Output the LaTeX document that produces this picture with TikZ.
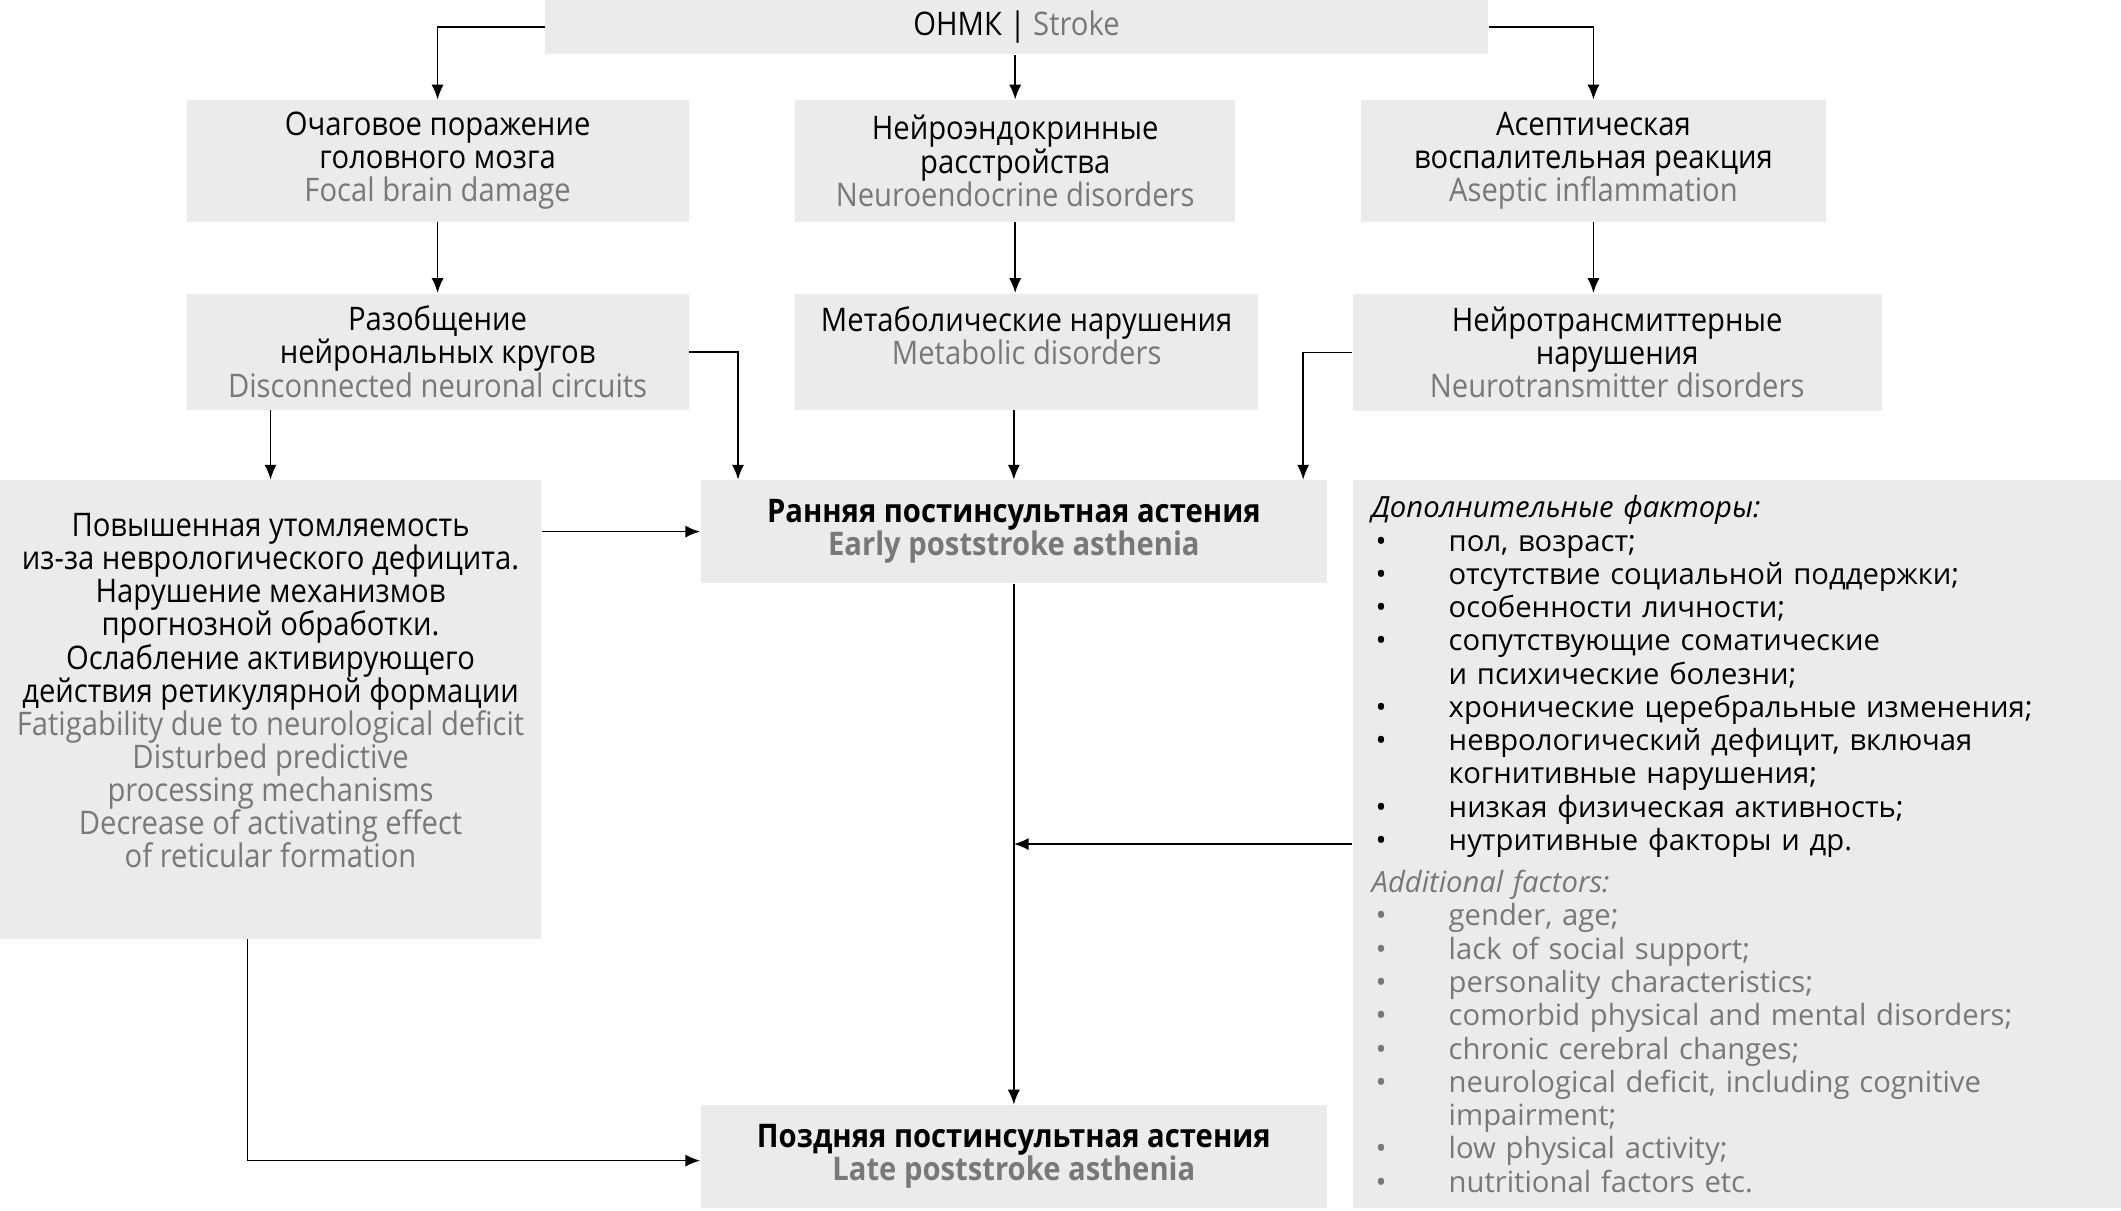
\documentclass[tikz,border=0pt]{standalone}
\usepackage{fontspec}
\setmainfont{Open Sans}
\newfontfamily\condfont[FakeStretch=0.9]{Open Sans}
\usepackage{xcolor}
\usetikzlibrary{arrows.meta}

\definecolor{boxgray}{HTML}{EBEBEB}
\definecolor{txtgray}{HTML}{787878}
\newcommand{\eng}[1]{\textcolor{txtgray}{#1}}
\newcommand{\itm}[1]{\makebox[28.5pt][l]{\hspace{1.5pt}•}#1}

\begin{document}
\begin{tikzpicture}[x=0.5pt, y=-0.5pt,
    box/.style={fill=boxgray, inner sep=0pt, align=center,
        font=\condfont\fontsize{12}{12.25}\selectfont},
    arr/.style={-{Latex[length=5.5pt,width=4.5pt]}, line width=0.65pt}]
    % Frame
    \useasboundingbox (0,0) rectangle (1568,895);

    % Stroke
    \node[box, minimum width=348.5pt, minimum height=20pt] (onmk) at (751.5,20) {ОНМК | \eng{Stroke}};

    % First level
    \node[box, minimum width=185.5pt, minimum height=45pt] (focal) at (323.5,119)
        {Очаговое поражение\\головного мозга\\\eng{Focal brain damage}};
    \node[box, minimum width=162.5pt, minimum height=45pt] (neuro) at (750.5,119)
        {Нейроэндокринные\\расстройства\\\eng{Neuroendocrine disorders}};
    \node[box, minimum width=172pt, minimum height=45pt] (asept) at (1178,119)
        {Асептическая\\воспалительная реакция\\\eng{Aseptic inflammation}};

    % Second level
    \node[box, minimum width=185.5pt, minimum height=43pt] (discon) at (323.5,260)
        {Разобщение\\нейрональных кругов\\\eng{Disconnected neuronal circuits}};
    \node[box, minimum width=171pt, minimum height=43pt, text depth=12pt] (metab) at (759,260)
        {Метаболические нарушения\\\eng{Metabolic disorders}};
    \node[box, minimum width=195.5pt, minimum height=43.5pt] (transm) at (1195.5,260.5)
        {Нейротрансмиттерные\\нарушения\\\eng{Neurotransmitter disorders}};

    % Fatigability
    \node[box, minimum width=200pt, minimum height=169.5pt, text depth=14pt] (fatig) at (200,524.5)
        {Повышенная утомляемость\\из-за неврологического дефицита.\\Нарушение механизмов\\
         прогнозной обработки.\\Ослабление активирующего\\действия ретикулярной формации\\
         \eng{Fatigability due to neurological deficit}\\\eng{Disturbed predictive}\\
         \eng{processing mechanisms}\\\eng{Decrease of activating effect}\\
         \eng{of reticular formation}};

    % Asthenia
    \node[box, minimum width=231.5pt, minimum height=38pt, font=\condfont\bfseries\fontsize{12}{12.25}\selectfont] (early) at (749.5,393)
        {Ранняя постинсультная астения\\\eng{Early poststroke asthenia}};
    \node[box, minimum width=231.5pt, minimum height=38pt, font=\condfont\bfseries\fontsize{12}{12.25}\selectfont] (late) at (749.5,855)
        {Поздняя постинсультная астения\\\eng{Late poststroke asthenia}};

    % Additional factors
    \node[box, align=left, text width=270pt, inner xsep=7pt, minimum height=269pt,
        font=\fontsize{10.8}{12.3}\selectfont] (factors) at (1284,624)
        {\textit{Дополнительные факторы:}\\
         \itm{пол, возраст;}\\
         \itm{отсутствие социальной поддержки;}\\
         \itm{особенности личности;}\\
         \itm{сопутствующие соматические}\\
         \hspace*{28.5pt}и психические болезни;\\
         \itm{хронические церебральные изменения;}\\
         \itm{неврологический дефицит, включая}\\
         \hspace*{28.5pt}когнитивные нарушения;\\
         \itm{низкая физическая активность;}\\
         \itm{нутритивные факторы и др.}\\[3.3pt]
         \color{txtgray}\textit{Additional factors:}\\
         \itm{gender, age;}\\
         \itm{lack of social support;}\\
         \itm{personality characteristics;}\\
         \itm{comorbid physical and mental disorders;}\\
         \itm{chronic cerebral changes;}\\
         \itm{neurological deficit, including cognitive}\\
         \hspace*{28.5pt}impairment;\\
         \itm{low physical activity;}\\
         \itm{nutritional factors etc.}};

    % Arrows
    \draw[arr] (onmk.west) -| (focal.north);
    \draw[arr] (onmk.south -| neuro.north) -- (neuro.north);
    \draw[arr] (onmk.east) -| (asept.north);
    \draw[arr] (focal.south) -- (discon.north);
    \draw[arr] (neuro.south) -- (neuro.south |- metab.north);
    \draw[arr] (asept.south) -- (asept.south |- transm.north);
    \draw[arr] (discon.east) -| ([xshift=14pt]early.north west);
    \draw[arr] (discon.south -| fatig.north) -- (fatig.north);
    \draw[arr] (early.north |- metab.south) -- (early.north);
    \draw[arr] (transm.west) -| ([xshift=-9pt]early.north east);
    \draw[arr] (fatig.east |- early.west) -- (early.west);
    \draw[arr] (early.south) -- (late.north);
    \draw[arr] ([xshift=-8.5pt]fatig.south) |- ([yshift=-1.5pt]late.west);
    \draw[arr] (factors.west) -- (factors.west -| early.south);
\end{tikzpicture}
\end{document}
